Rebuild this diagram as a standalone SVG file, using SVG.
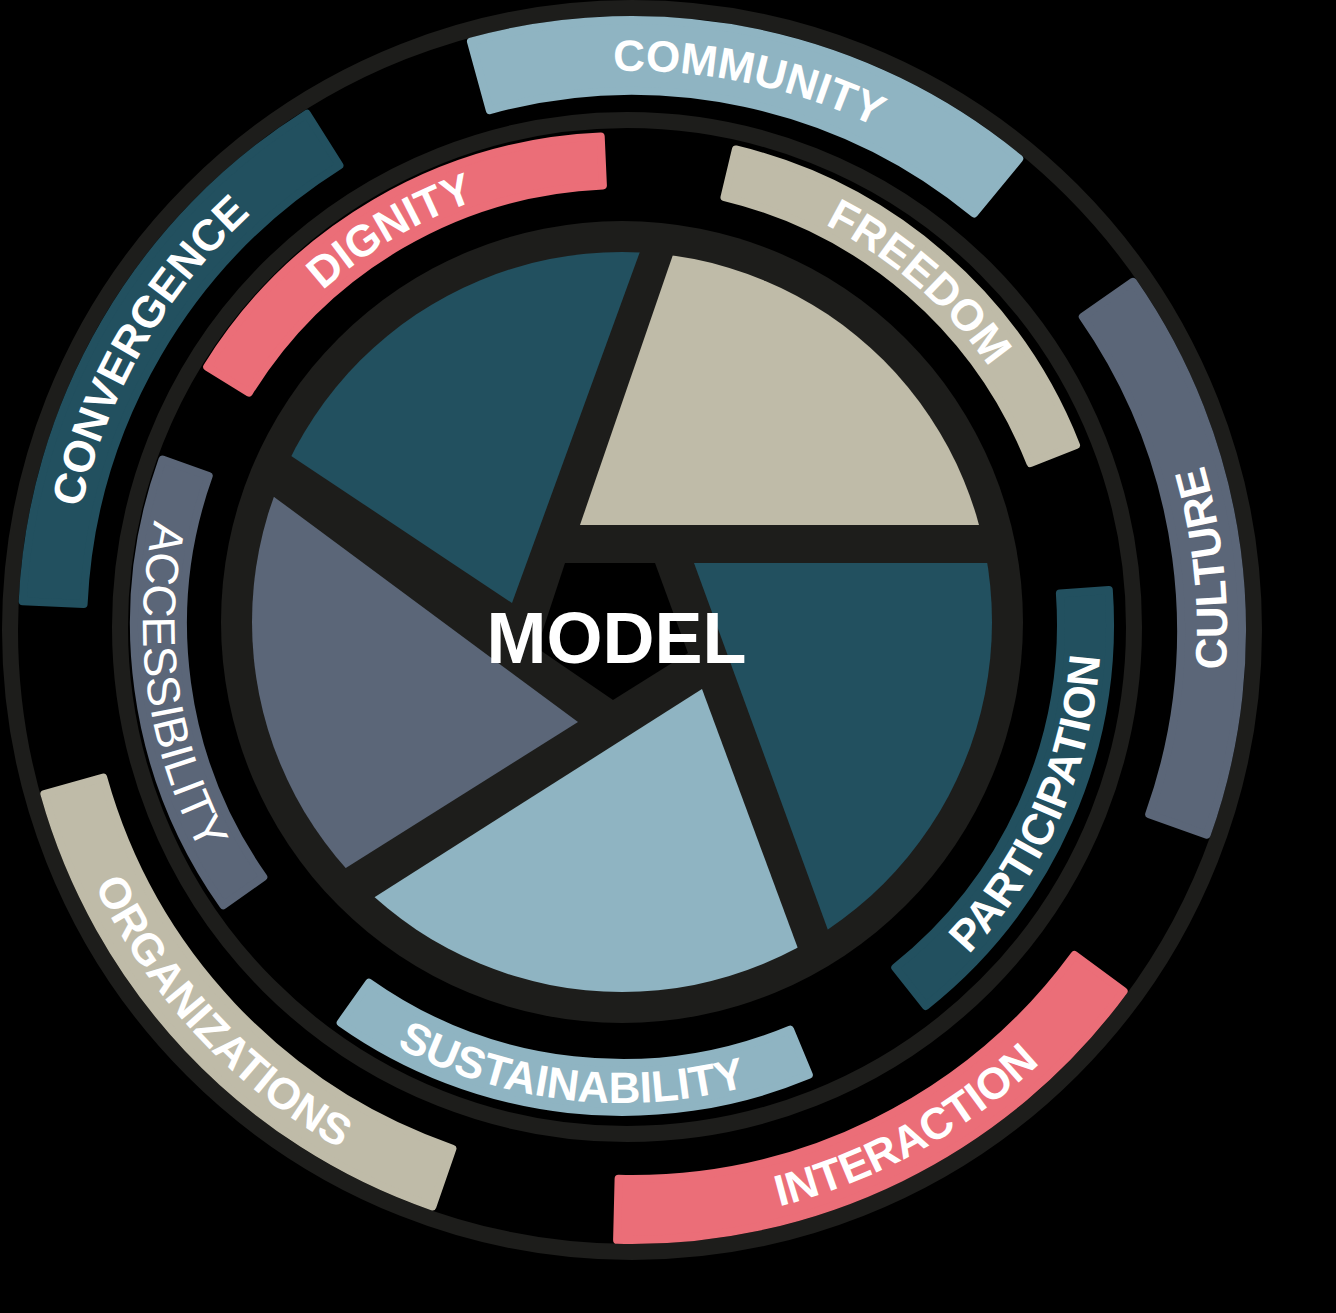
<svg xmlns="http://www.w3.org/2000/svg" width="1336" height="1313" viewBox="0 0 1336 1313">
<defs>
<style>
.ring{fill:none;stroke:#1d1d1b}
.band{stroke-width:8;stroke-linejoin:round}
.teal{fill:#22505f;stroke:#22505f}
.beige{fill:#bfbba8;stroke:#bfbba8}
.lblue{fill:#8fb4c2;stroke:#8fb4c2}
.slate{fill:#5b6678;stroke:#5b6678}
.pink{fill:#eb6e78;stroke:#eb6e78}
.blade{stroke:none}
.lbl{fill:#ffffff;font-family:"Liberation Sans",Arial,sans-serif;font-weight:bold;font-size:44px}
.thin{font-weight:normal;font-size:46px}
</style>
<clipPath id="pieClip"><circle cx="622" cy="622" r="370"/></clipPath>
<path id="tp-community" d="M477.9,92.6 A559,559 0 0 1 991.3,201.8"/>
<path id="tp-convergence" d="M68.3,610.3 A564,564 0 0 1 333.1,151.7"/>
<path id="tp-culture" d="M1191.1,833.5 A595,595 0 0 0 1119.4,288.7"/>
<path id="tp-organizations" d="M57.3,784.0 A595,595 0 0 0 438.3,1192.6"/>
<path id="tp-interaction" d="M611.2,1224.6 A595,595 0 0 0 1113.4,979.7"/>
<path id="tp-dignity" d="M238.0,393.3 A448,448 0 0 1 606.4,176.3"/>
<path id="tp-freedom" d="M722.8,187.5 A448,448 0 0 1 1040.3,463.4"/>
<path id="tp-participation" d="M916.9,1001.5 A479,479 0 0 0 1099.5,586.4"/>
<path id="tp-sustainability" d="M340.4,1011.5 A479,479 0 0 0 809.1,1064.9"/>
<path id="tp-accessibility" d="M171.9,460.2 A479,479 0 0 0 234.5,905.6"/>
</defs>
<rect x="0" y="0" width="1336" height="1313" fill="#000000"/>

<g id="connectors">
<circle class="ring" cx="632" cy="630" r="622" stroke-width="16"/>
<circle class="ring" cx="627" cy="627" r="507" stroke-width="16"/>
</g>

<g id="community">
<path class="band lblue" d="M471.0,41.6 A610,610 0 0 1 1019.2,158.7 L974.1,213.5 A539,539 0 0 0 489.8,110.1 Z"/>
<text class="lbl"><textPath href="#tp-community" startOffset="50%" text-anchor="middle">COMMUNITY</textPath></text>
</g>
<g id="convergence">
<path class="band teal" d="M22.7,601.3 A610,610 0 0 1 306.9,113.8 L339.4,165.4 A549,549 0 0 0 83.6,604.1 Z"/>
<text class="lbl"><textPath href="#tp-convergence" startOffset="50%" text-anchor="middle">CONVERGENCE</textPath></text>
</g>
<g id="culture">
<path class="band slate" d="M1132.9,281.9 A610,610 0 0 1 1206.7,834.7 L1149.2,814.2 A549,549 0 0 0 1082.8,316.7 Z"/>
<text class="lbl"><textPath href="#tp-culture" startOffset="47.5%" text-anchor="middle">CULTURE</textPath></text>
</g>
<g id="organizations">
<path class="band beige" d="M432.4,1206.4 A610,610 0 0 1 44.4,794.0 L103.2,777.6 A549,549 0 0 0 452.4,1148.7 Z"/>
<text class="lbl"><textPath href="#tp-organizations" startOffset="50%" text-anchor="middle">ORGANIZATIONS</textPath></text>
</g>
<g id="interaction">
<path class="band pink" d="M1123.6,991.1 A610,610 0 0 1 617.1,1239.8 L618.6,1178.8 A549,549 0 0 0 1074.4,955.0 Z"/>
<text class="lbl"><textPath href="#tp-interaction" startOffset="55%" text-anchor="middle">INTERACTION</textPath></text>
</g>
<g id="dignity">
<path class="band pink" d="M207.2,366.8 A488,488 0 0 1 600.7,136.5 L602.9,185.4 A439,439 0 0 0 248.9,392.6 Z"/>
<text class="lbl"><textPath href="#tp-dignity" startOffset="50%" text-anchor="middle">DIGNITY</textPath></text>
</g>
<g id="freedom">
<path class="band beige" d="M735.9,149.5 A488,488 0 0 1 1076.0,445.1 L1030.4,463.1 A439,439 0 0 0 724.5,197.1 Z"/>
<text class="lbl"><textPath href="#tp-freedom" startOffset="50%" text-anchor="middle">FREEDOM</textPath></text>
</g>
<g id="participation">
<path class="band teal" d="M1108.8,589.9 A488,488 0 0 1 925.8,1005.9 L895.3,967.6 A439,439 0 0 0 1059.9,593.4 Z"/>
<text class="lbl"><textPath href="#tp-participation" startOffset="50%" text-anchor="middle">PARTICIPATION</textPath></text>
</g>
<g id="sustainability">
<path class="band lblue" d="M808.8,1074.9 A488,488 0 0 1 340.7,1022.7 L369.0,982.7 A439,439 0 0 0 790.0,1029.6 Z"/>
<text class="lbl"><textPath href="#tp-sustainability" startOffset="50%" text-anchor="middle">SUSTAINABILITY</textPath></text>
</g>
<g id="accessibility">
<path class="band slate" d="M223.3,905.3 A488,488 0 0 1 162.5,459.5 L208.7,476.0 A439,439 0 0 0 263.3,877.0 Z"/>
<text class="lbl thin"><textPath href="#tp-accessibility" startOffset="50%" text-anchor="middle">ACCESSIBILITY</textPath></text>
</g>

<g id="model">
<circle cx="622" cy="622" r="401" fill="#1d1d1b"/>
<g clip-path="url(#pieClip)">
<polygon class="blade beige" points="580,525 709,150 1100,150 1100,525"/>
<polygon class="blade teal" points="512,603 677,150 150,150 150,362"/>
<polygon class="blade teal" points="694,563 1100,563 1100,1100 890,1100"/>
<polygon class="blade lblue" points="702,689 854,1100 150,1100 150,1040"/>
<polygon class="blade slate" points="578,722 150,991 150,405"/>
</g>
<polygon points="565,563 655,563 688,653 613,700 537,648" fill="#000000"/>
<text x="616.5" y="663" text-anchor="middle" style="fill:#ffffff;font-family:'Liberation Sans',Arial,sans-serif;font-weight:bold;font-size:72px">MODEL</text>
</g>
</svg>
